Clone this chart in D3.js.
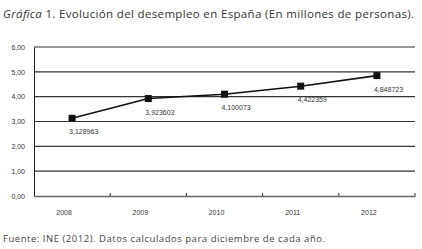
<!DOCTYPE html>
<html>
<head>
<meta charset="utf-8">
<script src="https://cdn.jsdelivr.net/npm/d3@7"></script>
<style>
  html, body { margin: 0; padding: 0; background: #fff; }
  svg { display: block; }
</style>
</head>
<body>
<div id="chart"></div>
<script>
const years = ["2008", "2009", "2010", "2011", "2012"];
const parados = [3.128963, 3.923603, 4.100073, 4.422359, 4.848723];
const labels = ["3,128963", "3,923603", "4,100073", "4,422359", "4,848723"];
const yTicks = [0, 1, 2, 3, 4, 5, 6];

const W = 422, H = 249;
const margin = { top: 47, right: 7, bottom: 53, left: 34 };
const innerW = W - margin.left - margin.right;
const innerH = H - margin.top - margin.bottom;

const svg = d3.select("#chart").append("svg")
    .attr("width", W)
    .attr("height", H);

// Title
const title = svg.append("text")
    .attr("x", 3)
    .attr("y", 18)
    .attr("textLength", 411)
    .attr("lengthAdjust", "spacing")
    .style("font-family", "'Open Sans', sans-serif")
    .style("font-size", "11.5px")
    .style("fill", "#333");
title.append("tspan").style("font-style", "italic").text("Gráfica");
title.append("tspan").text(" 1. Evolución del desempleo en España (En millones de personas).");

// Source
svg.append("text")
    .attr("x", 3)
    .attr("y", 242)
    .attr("textLength", 322)
    .attr("lengthAdjust", "spacing")
    .style("font-family", "'Open Sans', sans-serif")
    .style("font-size", "9.5px")
    .style("fill", "#444")
    .text("Fuente: INE (2012). Datos calculados para diciembre de cada año.");

const g = svg.append("g")
    .attr("transform", `translate(${margin.left}, ${margin.top})`);

const x = d3.scaleBand()
    .domain(years)
    .range([0, innerW]);

const y = d3.scaleLinear()
    .domain([0, 6])
    .range([innerH, 0]);

// Gridlines
g.selectAll(".grid")
    .data(yTicks.filter(d => d > 0))
    .enter()
    .append("line")
    .attr("x1", 0)
    .attr("x2", innerW)
    .attr("y1", d => y(d))
    .attr("y2", d => y(d))
    .attr("stroke", "#333")
    .attr("stroke-width", 1.1);

// Y axis
const yAxis = g.append("g")
    .call(d3.axisLeft(y).tickValues(yTicks).tickSize(0).tickPadding(9)
        .tickFormat(d => d3.format(".2f")(d).replace(".", ",")));
yAxis.select(".domain").attr("stroke", "#222");
yAxis.selectAll("text")
    .style("font-family", "'Liberation Sans', Arial, sans-serif")
    .style("font-size", "7px")
    .style("fill", "#333");

// X axis
const xAxis = g.append("g")
    .attr("transform", `translate(0, ${innerH})`)
    .call(d3.axisBottom(x).tickSize(0).tickPadding(14));
xAxis.select(".domain").attr("stroke", "#666").attr("stroke-width", 1.6);
xAxis.selectAll("text")
    .attr("dx", -8)
    .style("font-family", "'Liberation Sans', Arial, sans-serif")
    .style("font-size", "7px")
    .style("fill", "#333");

// Category separator ticks
g.selectAll(".sep")
    .data(years.slice(1).concat([null]))
    .enter()
    .append("line")
    .attr("x1", d => d ? x(d) : innerW)
    .attr("x2", d => d ? x(d) : innerW)
    .attr("y1", innerH - 3)
    .attr("y2", innerH)
    .attr("stroke", "#333");

// Line
const line = d3.line()
    .x((d, i) => x(years[i]) + x.bandwidth() / 2)
    .y(d => y(d));

g.append("path")
    .datum(parados)
    .attr("d", line)
    .attr("fill", "none")
    .attr("stroke", "#111")
    .attr("stroke-width", 1.6);

// Markers
g.selectAll(".pt")
    .data(parados)
    .enter()
    .append("rect")
    .attr("x", (d, i) => x(years[i]) + x.bandwidth() / 2 - 3.5)
    .attr("y", d => y(d) - 3.5)
    .attr("width", 7)
    .attr("height", 7)
    .attr("fill", "#111");

// Value labels
g.selectAll(".lbl")
    .data(parados)
    .enter()
    .append("text")
    .attr("x", (d, i) => x(years[i]) + x.bandwidth() / 2 - 3)
    .attr("y", d => y(d) + 16)
    .style("font-family", "'Liberation Sans', Arial, sans-serif")
    .style("font-size", "7px")
    .style("fill", "#333")
    .text((d, i) => labels[i]);
</script>
</body>
</html>
